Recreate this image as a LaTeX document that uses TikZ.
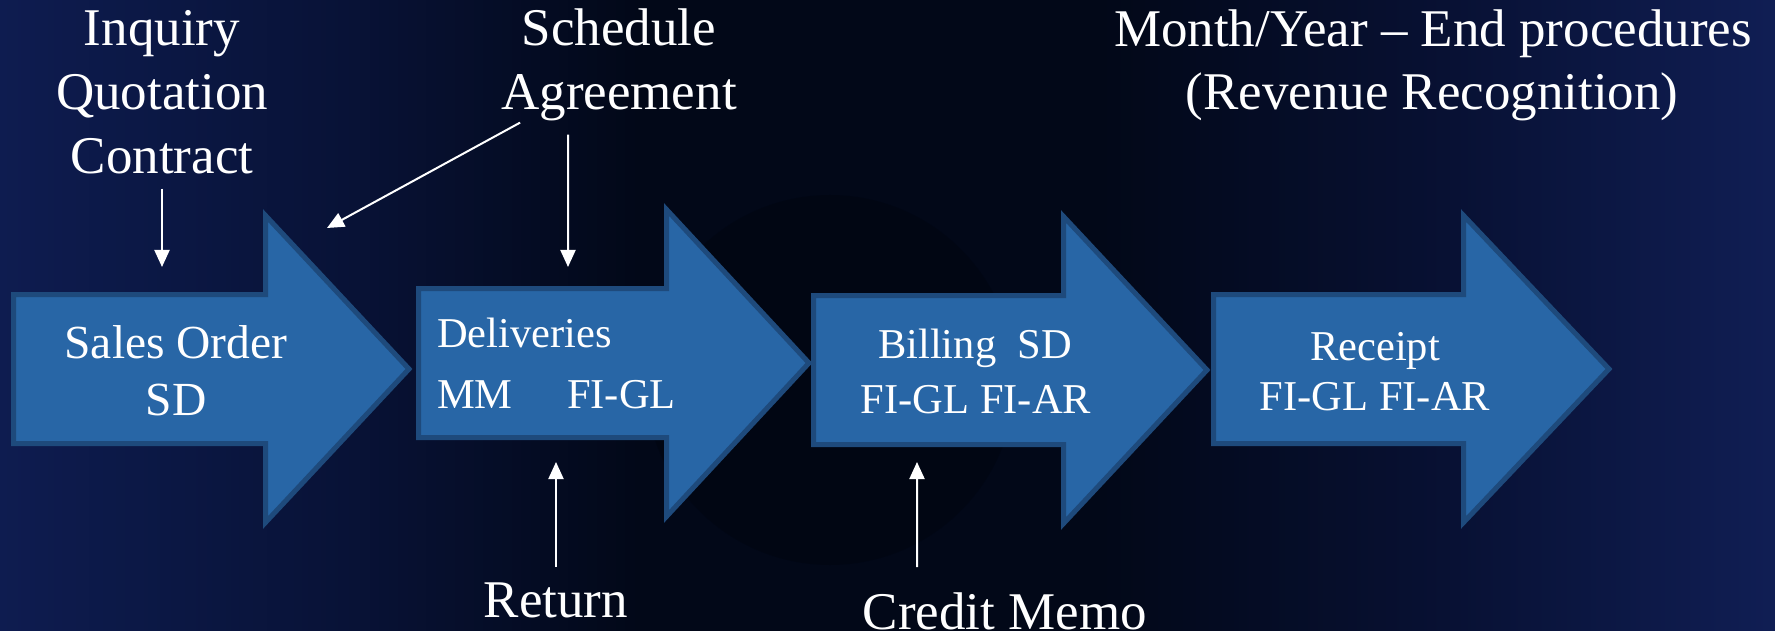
\documentclass[tikz,border=0pt]{standalone}
\usepackage{fontspec}
\setmainfont{Liberation Serif}
\usetikzlibrary{arrows.meta}
\definecolor{bgL}{RGB}{14,28,80}
\definecolor{bgLm}{RGB}{8,18,54}
\definecolor{bgM}{RGB}{2,8,24}
\definecolor{bgRm}{RGB}{8,17,52}
\definecolor{bgR}{RGB}{16,30,84}
\definecolor{holecol}{RGB}{1,3,12}
\definecolor{arrowfill}{RGB}{40,102,166}
\definecolor{arrowedge}{RGB}{30,74,124}
\pgfdeclarehorizontalshading{bgshade}{100bp}{color(0bp)=(bgL); color(25bp)=(bgL); color(35bp)=(bgLm); color(43bp)=(bgM); color(56bp)=(bgM); color(66bp)=(bgRm); color(75bp)=(bgR); color(100bp)=(bgR)}
\newcommand\blockarr[5]{%
  \draw[blockarrow] (#2+2.5,#5-74.5) -- (#3+2.5,#5-74.5) -- (#3+2.5,#5-153.5) -- (#4-4,#5) -- (#3+2.5,#5+153.5) -- (#3+2.5,#5+74.5) -- (#2+2.5,#5+74.5) -- cycle;
  \coordinate (#1) at (#2,#5);}
\tikzset{
  blockarrow/.style={fill=arrowfill, draw=arrowedge, line width=5bp, line join=miter},
  lbl/.style={text=white, inner sep=0pt, anchor=base, font=\fontsize{53bp}{64bp}\selectfont},
  boxlbl/.style={text=white, inner sep=0pt, anchor=base, font=\fontsize{42.5bp}{51bp}\selectfont},
  solbl/.style={text=white, inner sep=0pt, anchor=base, font=\fontsize{47.5bp}{57bp}\selectfont},
  ptr/.style={draw=white, line width=2bp, -{Triangle[length=17bp,width=15bp]}},
}
\begin{document}
\begin{tikzpicture}[x=1bp,y=-1bp]
\useasboundingbox (0,0) rectangle (1775,631);
\fill[shading=bgshade] (0,0) rectangle (1775,631);
\fill[holecol, opacity=0.35] (830,380) circle[radius=185];

% block arrows
\blockarr{a1}{11}{263}{413}{369}
\blockarr{a2}{416}{664}{813}{363}
\blockarr{a3}{811}{1061}{1211}{370}
\blockarr{a4}{1211}{1461}{1613}{369}

% texts in the arrows
\node[solbl] (so1) at (176,358) {Sales Order};
\node[solbl] (so2) at (176,415) {SD};
\node[boxlbl, anchor=base west] (dv1) at (437,347) {Deliveries};
\node[boxlbl, anchor=base west] (dv2) at (437,408) {MM};
\node[boxlbl, anchor=base west] (dv3) at (567,408) {FI-GL};
\node[boxlbl] (bi1) at (975,358) {Billing\ \ SD};
\node[boxlbl] (bi2) at (976,413) {FI-GL FI-AR};
\node[boxlbl] (re1) at (1375,360) {Receipt};
\node[boxlbl] (re2) at (1375,410) {FI-GL FI-AR};

% outer labels
\node[lbl] (inq) at (162,46) {Inquiry};
\node[lbl] (quo) at (162,110) {Quotation};
\node[lbl] (con) at (162,174) {Contract};
\node[lbl] (sch) at (619,46) {Schedule};
\node[lbl] (agr) at (619,110) {Agreement};
\node[lbl] (mon) at (1433,47) {Month/Year – End procedures};
\node[lbl] (rev) at (1432,110) {(Revenue Recognition)};
\node[lbl] (ret) at (556,617) {Return};
\node[lbl] (cre) at (1005,629) {Credit Memo};

% pointer targets
\coordinate (t1) at (162,267);
\coordinate (t2) at (327,228);
\coordinate (t3) at (568,267);
\coordinate (t4) at (556,462);
\coordinate (t5) at (917,462);

% pointers
\draw[ptr, shorten <=14bp] (con.south) -- (t1);
\draw[ptr] ([xshift=19bp,yshift=-1bp]agr.south west) -- (t2);
\draw[ptr, shorten <=13bp] ([xshift=-51bp]agr.south) -- (t3);
\draw[ptr, shorten <=15bp] (ret.north) -- (t4);
\draw[ptr, shorten <=25bp] ([xshift=-88bp]cre.north) -- (t5);
\end{tikzpicture}
\end{document}
